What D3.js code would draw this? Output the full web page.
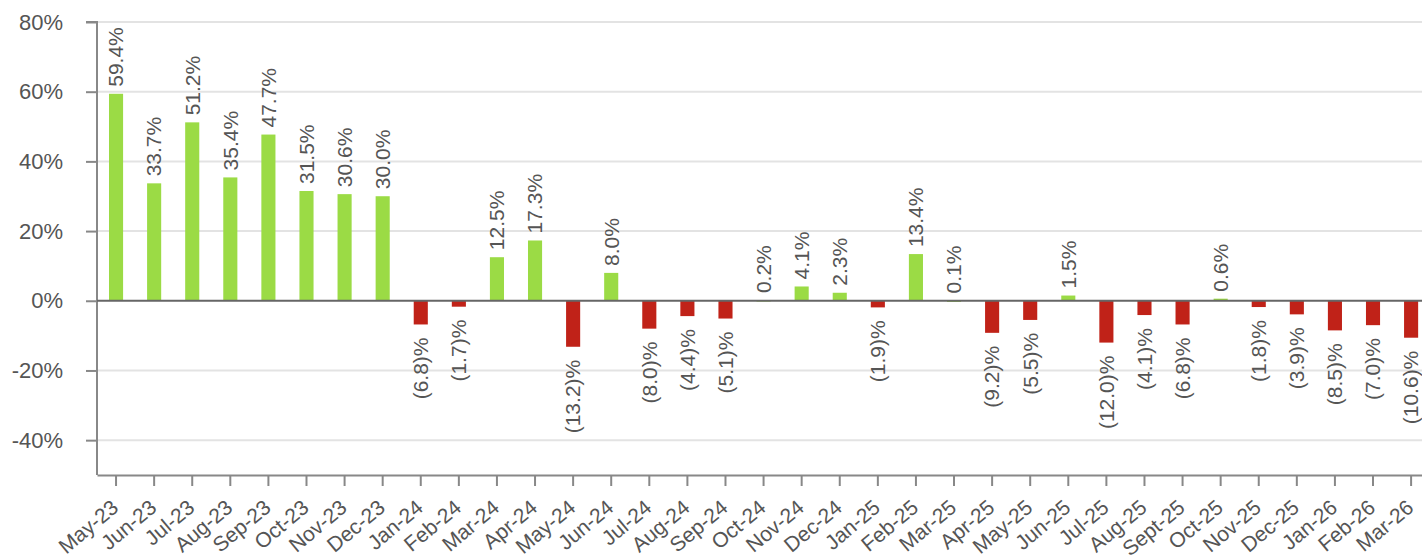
<!DOCTYPE html>
<html>
<head>
<meta charset="utf-8">
<script src="https://cdn.jsdelivr.net/npm/d3@7"></script>
<style>
  body { margin: 0; background: #fff; }
  svg { display: block; font-family: "Liberation Sans", Arial, sans-serif; }
</style>
</head>
<body>
<div id="chart"></div>
<script>
// months shown on the x axis
const months = ["May-23","Jun-23","Jul-23","Aug-23","Sep-23","Oct-23","Nov-23","Dec-23",
  "Jan-24","Feb-24","Mar-24","Apr-24","May-24","Jun-24","Jul-24","Aug-24","Sep-24","Oct-24",
  "Nov-24","Dec-24","Jan-25","Feb-25","Mar-25","Apr-25","May-25","Jun-25","Jul-25","Aug-25",
  "Sept-25","Oct-25","Nov-25","Dec-25","Jan-26","Feb-26","Mar-26"];
// percentage change per month
const changes = [59.4, 33.7, 51.2, 35.4, 47.7, 31.5, 30.6, 30.0,
  -6.8, -1.7, 12.5, 17.3, -13.2, 8.0, -8.0, -4.4, -5.1, 0.2,
  4.1, 2.3, -1.9, 13.4, 0.1, -9.2, -5.5, 1.5, -12.0, -4.1,
  -6.8, 0.6, -1.8, -3.9, -8.5, -7.0, -10.6];
const yTicks = [-40, -20, 0, 20, 40, 60, 80];

const width = 1422, height = 559;
const data = months.map((m, i) => ({ month: m, value: changes[i] }));

const svg = d3.select('#chart').append('svg')
    .attr('width', width)
    .attr('height', height);

const x = d3.scaleBand()
    .domain(months)
    .range([97, 97 + 35 * 38.09])
    .paddingInner(0.63)
    .paddingOuter(0.315);

const y = d3.scaleLinear()
    .domain([-50, 80])
    .range([475, 22]);

// gridlines
svg.append('g')
  .selectAll('line')
  .data(yTicks.filter(d => d !== 0))
  .enter().append('line')
    .attr('x1', 97).attr('x2', width)
    .attr('y1', d => y(d)).attr('y2', d => y(d))
    .attr('stroke', '#e3e3e3')
    .attr('stroke-width', 2);

// y axis
const yAxis = svg.append('g')
    .attr('transform', 'translate(97,0)')
    .call(d3.axisLeft(y).tickValues(yTicks).tickFormat(d => d + '%').tickSize(11).tickPadding(23));
yAxis.select('.domain').attr('stroke', '#888').attr('stroke-width', 2).attr('d', `M-11,${y(80)}H0V${y(-50)}`);
yAxis.selectAll('.tick line').attr('stroke', '#888').attr('stroke-width', 2);
yAxis.selectAll('.tick text').attr('fill', '#555').style('font-size', '22px');

// x axis
const xAxis = svg.append('g')
    .attr('transform', `translate(0,${y(-50)})`)
    .call(d3.axisBottom(x).tickSize(11).tickSizeOuter(0));
xAxis.select('.domain').attr('stroke', '#888').attr('stroke-width', 2);
xAxis.selectAll('.tick line').attr('stroke', '#888').attr('stroke-width', 2);
xAxis.selectAll('.tick text')
    .attr('fill', '#555')
    .style('font-size', '21px')
    .attr('text-anchor', 'end')
    .attr('x', 0)
    .attr('y', 0)
    .attr('dy', '0.35em')
    .attr('transform', 'translate(-1,29) rotate(-40)');

// bars
svg.append('g')
  .selectAll('rect')
  .data(data)
  .enter().append('rect')
    .attr('x', d => x(d.month))
    .attr('width', x.bandwidth())
    .attr('y', d => y(Math.max(0, d.value)))
    .attr('height', d => Math.max(1.5, Math.abs(y(d.value) - y(0))))
    .attr('fill', d => d.value >= 0 ? '#9bdb45' : '#c02218');

// zero line
svg.append('line')
    .attr('x1', 97).attr('x2', width)
    .attr('y1', y(0)).attr('y2', y(0))
    .attr('stroke', '#666')
    .attr('stroke-width', 2);

// value labels
const fmt = v => v >= 0 ? v.toFixed(1) + '%' : '(' + Math.abs(v).toFixed(1) + ')%';
svg.append('g')
  .selectAll('text')
  .data(data)
  .enter().append('text')
    .attr('transform', d => {
      const cx = x(d.month) + x.bandwidth() / 2;
      const cy = d.value >= 0 ? y(d.value) - 7 : y(d.value) + 13;
      return `translate(${cx},${cy}) rotate(-90)`;
    })
    .attr('dy', '0.35em')
    .attr('text-anchor', d => d.value >= 0 ? 'start' : 'end')
    .attr('fill', '#555')
    .style('font-size', '21px')
    .text(d => fmt(d.value));
</script>
</body>
</html>
